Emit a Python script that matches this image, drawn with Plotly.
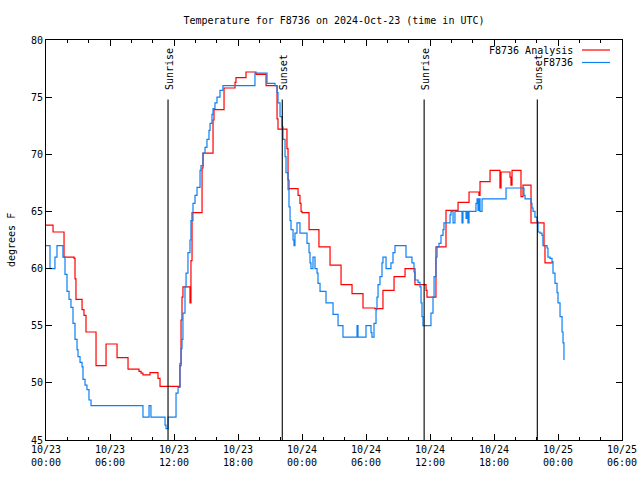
import pandas as pd
import plotly.graph_objects as go

BASE = pd.Timestamp("2024-10-23 00:00")

# F8736 observations: hours since 2024-10-23 00:00 UTC, temperature (F)
obs_hours = [0.00, 0.375, 0.84, 1.03, 1.59, 1.78, 1.97, 2.16, 2.34, 2.53, 2.72, 2.91, 3.00, 3.19, 3.38, 3.47,
             3.66, 3.84, 4.03, 4.22, 9.09, 9.66, 9.84, 11.16, 11.25, 11.44, 12.19, 12.38, 12.56, 12.66, 12.75,
             12.84, 13.03, 13.13, 13.31, 13.50, 13.59, 13.78, 13.97, 14.16, 14.44, 14.53, 14.72, 14.91, 15.09,
             15.28, 15.38, 15.56, 15.66, 15.84, 16.03, 16.31, 16.59, 19.59, 20.72, 21.47, 21.66, 21.75, 21.94,
             22.13, 22.22, 22.41, 22.50, 22.69, 22.78, 22.88, 22.97, 23.16, 23.25, 23.34, 23.53, 23.81, 24.47,
             24.66, 24.75, 24.84, 25.03, 25.22, 25.41, 25.50, 25.69, 26.25, 26.91, 27.38, 27.84, 29.16, 29.25,
             30.00, 30.47, 30.56, 30.75, 30.94, 31.03, 31.13, 31.31, 31.50, 31.59, 31.88, 32.34, 32.53, 32.72,
             33.75, 34.31, 34.50, 34.59, 34.88, 35.06, 35.16, 35.25, 35.34, 36.09, 36.28, 36.38, 36.56, 36.66,
             36.84, 37.03, 37.22, 37.31, 37.88, 37.97, 38.16, 38.34, 39.00, 39.09, 39.38, 39.47, 39.56, 39.66,
             40.31, 40.41, 40.50, 40.59, 40.69, 40.88, 43.13, 44.81, 44.91, 45.47, 45.56, 45.66, 45.84, 46.03,
             46.13, 46.31, 46.50, 46.59, 46.97, 47.06, 47.25, 47.44, 47.53, 47.72, 47.91, 48.00, 48.19, 48.38,
             48.47, 48.56]
obs_temp = [62.0, 60.0, 61.0, 62.0, 61.0, 59.5, 58.0, 57.3, 56.6, 55.2, 53.8, 52.9, 52.3, 51.8, 51.4, 50.3,
            49.8, 49.4, 48.5, 48.0, 47.0, 48.0, 47.0, 46.3, 46.0, 47.0, 49.1, 49.6, 51.7, 53.0, 53.8,
            56.1, 58.4, 59.6, 61.4, 62.5, 64.2, 65.7, 66.4, 67.1, 68.6, 69.0, 70.1, 70.6, 71.3,
            72.1, 72.7, 73.5, 74.0, 74.5, 75.0, 75.6, 76.0, 77.1, 76.2, 76.0, 75.4, 74.5, 73.3,
            72.4, 71.3, 69.8, 68.4, 66.9, 65.4, 64.2, 63.4, 62.5, 62.0, 63.1, 64.0, 63.1, 62.2,
            61.4, 60.5, 60.0, 61.0, 60.0, 59.6, 58.7, 58.0, 57.0, 56.0, 55.0, 54.0, 55.0, 54.0,
            55.0, 54.4, 54.0, 55.2, 56.4, 57.5, 58.6, 59.3, 60.5, 61.0, 60.0, 60.5, 61.4, 62.0,
            61.0, 60.5, 59.7, 59.0, 58.8, 58.4, 57.0, 55.8, 55.0, 56.1, 57.5, 59.3, 61.0, 61.9,
            62.2, 62.9, 63.4, 64.0, 64.7, 65.0, 64.0, 65.0, 64.0, 65.0, 64.4, 65.0, 64.0, 65.0,
            65.7, 66.1, 65.1, 66.1, 65.0, 66.1, 67.05, 66.4, 66.1, 65.7, 65.3, 65.0, 64.5, 64.1,
            63.2, 63.1, 62.9, 62.0, 61.8, 61.0, 60.9, 60.6, 59.6, 58.7, 57.9, 57.0, 55.8, 54.45,
            53.5, 52.0]

# F8736 Analysis: hours since 2024-10-23 00:00 UTC, temperature (F)
ana_hours = [0.00, 0.66, 1.69, 2.63, 2.72, 2.81, 3.38, 3.56, 3.75, 4.69, 5.63, 6.66, 7.69, 8.72, 8.91, 9.09,
             9.75, 10.50, 10.69, 12.56, 12.66, 12.75, 12.84, 13.50, 13.59, 13.69, 14.63, 14.72, 15.66, 15.75,
             16.69, 17.72, 17.81, 18.75, 19.69, 20.63, 21.66, 21.75, 22.59, 22.69, 22.78, 23.63, 23.81, 23.91,
             24.00, 24.66, 25.59, 26.63, 27.66, 28.69, 29.72, 30.84, 31.59, 32.63, 33.66, 34.59, 35.63, 35.72,
             36.56, 37.50, 38.63, 39.66, 40.59, 40.69, 41.63, 42.56, 42.66, 43.50, 43.59, 43.69, 44.53, 44.72,
             45.47, 46.69, 46.78, 47.53]
ana_temp = [63.8, 63.2, 61.0, 60.9, 59.1, 57.3, 56.4, 55.9, 54.45, 51.5, 53.4, 52.2, 51.2, 51.0, 50.85, 50.7,
            50.9, 50.4, 49.7, 51.5, 55.5, 57.5, 58.4, 57.0, 60.7, 64.9, 68.8, 70.1, 73.0, 73.9,
            75.8, 76.3, 76.7, 77.2, 77.0, 76.0, 73.1, 72.2, 70.5, 67.75, 67.0, 66.4, 65.7, 65.0,
            64.9, 63.4, 61.9, 60.3, 58.6, 57.8, 56.55, 56.5, 58.1, 59.3, 60.0, 58.6, 58.1, 57.5,
            61.9, 65.1, 65.8, 66.7, 66.4, 67.6, 68.6, 67.05, 68.45, 68.0, 67.3, 68.6, 66.3, 67.3,
            64.0, 62.0, 60.5, 60.5]

# Sun events (hours since 2024-10-23 00:00 UTC)
event_hours = [11.44, 22.15, 35.45, 46.06]
event_labels = ["Sunrise", "Sunset", "Sunrise", "Sunset"]

y_ticks = [45, 50, 55, 60, 65, 70, 75, 80]


def to_time(hours):
    return [BASE + pd.Timedelta(hours=h) for h in hours]


MONO = "DejaVu Sans Mono"
RED = "#ff0000"
BLUE = "#0d80f2"
LW = 1.2
fig = go.Figure()
fig.add_trace(go.Scatter(x=to_time(ana_hours), y=ana_temp, mode="lines", line_shape="hv",
                         line=dict(color=RED, width=LW), name="F8736 Analysis", showlegend=False))
fig.add_trace(go.Scatter(x=to_time(obs_hours), y=obs_temp, mode="lines", line_shape="hv",
                         line=dict(color=BLUE, width=LW), name="F8736", showlegend=False))

shapes = []
annotations = []
for h, lab in zip(event_hours, event_labels):
    t = BASE + pd.Timedelta(hours=h)
    shapes.append(dict(type="line", xref="x", yref="y", x0=t, x1=t, y0=45, y1=74.8,
                       line=dict(color="black", width=1.1)))
    annotations.append(dict(x=t, y=75.45, xref="x", yref="y", text=lab, textangle=-90,
                            showarrow=False, xanchor="center", yanchor="bottom", xshift=1,
                            font=dict(family=MONO, size=10, color="black")))

# legend (gnuplot style: text right-aligned, sample to its right)
legend_rows = [("F8736 Analysis", RED, 50), ("F8736", BLUE, 62.5)]
for text, col, ypx in legend_rows:
    yp = 1 - (ypx - 40) / 400
    annotations.append(dict(x=(575 - 46) / 576, y=yp, xref="paper", yref="paper", text=text,
                            showarrow=False, xanchor="right", yanchor="middle",
                            font=dict(family=MONO, size=10, color="black")))
    shapes.append(dict(type="line", xref="paper", yref="paper", x0=(582 - 46) / 576, x1=(610 - 46) / 576,
                       y0=yp, y1=yp, line=dict(color=col, width=LW)))

annotations.append(dict(x=(11 - 46) / 576, y=0.5, xref="paper", yref="paper", text="degrees F",
                        textangle=-90, showarrow=False, xanchor="center", yanchor="middle",
                        font=dict(family=MONO, size=10, color="black")))

fig.update_layout(
    width=640, height=480,
    margin=dict(l=46, r=18, t=40, b=40, autoexpand=False),
    paper_bgcolor="white", plot_bgcolor="white",
    title=dict(text="Temperature for F8736 on 2024-Oct-23 (time in UTC)", x=334 / 640, xanchor="center",
               y=1 - 20 / 480, yanchor="middle", font=dict(family=MONO, size=10, color="black")),
    shapes=shapes, annotations=annotations,
    showlegend=False,
)
fig.update_xaxes(
    type="date", range=[BASE, BASE + pd.Timedelta(hours=54)], automargin=False,
    tick0=BASE, dtick=6 * 3600 * 1000, tickformat="%m/%d<br>%H:%M",
    ticks="inside", ticklen=6, tickcolor="black", tickwidth=1,
    minor=dict(dtick=2 * 3600 * 1000, ticks="inside", ticklen=3, tickcolor="black"),
    showline=True, linecolor="black", linewidth=1, mirror="ticks",
    showgrid=False, zeroline=False,
    tickfont=dict(family=MONO, size=10, color="black"),
)
fig.update_yaxes(
    range=[45, 80], tickvals=y_ticks, ticktext=[str(v) for v in y_ticks], automargin=False,
    ticks="inside", ticklen=6, tickcolor="black", tickwidth=1,
    showline=True, linecolor="black", linewidth=1, mirror="ticks",
    showgrid=False, zeroline=False,
    tickfont=dict(family=MONO, size=10, color="black"),
)

fig.write_html("out.html", config={"displayModeBar": False},
               post_script="document.body.style.margin='0';document.body.style.overflow='hidden';")
